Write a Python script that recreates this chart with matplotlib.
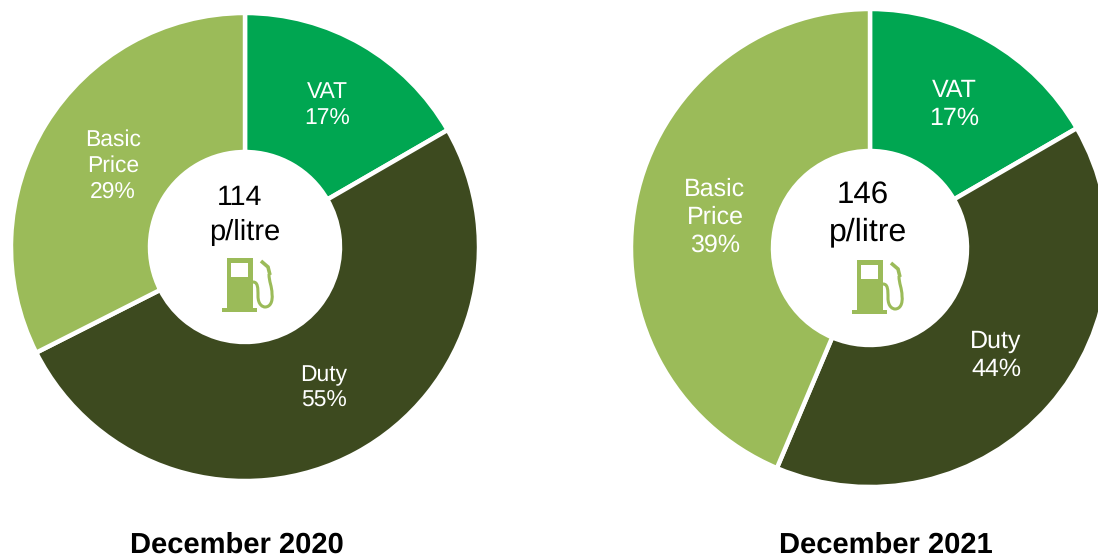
import matplotlib
matplotlib.use("Agg")
import matplotlib.pyplot as plt
from matplotlib.patches import Rectangle, PathPatch
from matplotlib.path import Path

plt.rcParams['font.family'] = ['Liberation Sans', 'DejaVu Sans']
plt.rcParams['text.hinting'] = 'no_hinting'

# pence per litre, as drawn (the slices do not follow the printed percentages)
pence_2020 = [19, 58, 37]
pence_2021 = [24.3, 58, 63.7]
names = ["VAT", "Duty", "Basic\nPrice"]
pct_2020 = ["17%", "55%", "29%"]
pct_2021 = ["17%", "44%", "39%"]
colours = ["#00A651", "#3D4A1F", "#9BBB59"]
W, H = 1098, 557


def py(y):
    # pixels from the top -> axes y
    return H - y


def draw_pump(ax, x0, y0):
    """Fuel pump icon, x0,y0 is the top left of the pump body in pixels"""
    green = colours[2]
    body = Path([(0, 0), (26, 0), (26, 50), (0, 50), (0, 0),
                 (4, 5), (4, 19), (21, 19), (21, 5), (4, 5)],
                [1, 2, 2, 2, 79, 1, 2, 2, 2, 79])
    hose = Path([(26, 24), (31, 24), (31, 30), (31, 38), (31, 47), (36, 49),
                 (38, 49), (43, 49), (46, 44), (45, 36), (45, 28), (42, 24),
                 (42, 16)],
                [1] + [4] * 12)
    nozzle = Path([(43, 17), (41, 9), (34, 3)], [1, 2, 2])
    tr = lambda p: Path([(x0 + x, py(y0 + y)) for x, y in p.vertices], p.codes)
    ax.add_patch(PathPatch(tr(body), fc=green, ec='none', zorder=5))
    ax.add_patch(Rectangle((x0 - 5, py(y0 + 54)), 35, 4, fc=green, ec='none', zorder=5))
    ax.add_patch(PathPatch(tr(hose), fc='none', ec=green, lw=2.2, zorder=5))
    ax.add_patch(PathPatch(tr(nozzle), fc='none', ec=green, lw=2.6, zorder=5))


def draw_donut(ax, vals, cx, cy, r, hole):
    ax.pie(vals, colors=colours, startangle=90, counterclock=False,
           center=(cx, py(cy)), radius=r, frame=False,
           wedgeprops=dict(width=r - hole, edgecolor='white', linewidth=3.2))


fig = plt.figure(figsize=(W / 100, H / 100), dpi=100)
ax = fig.add_axes([0, 0, 1, 1])

draw_donut(ax, pence_2020, 245, 247, 234, 95)
draw_donut(ax, pence_2021, 870, 248, 239, 97)
ax.set_xlim(0, W)
ax.set_ylim(0, H)
ax.set_aspect('equal')
ax.axis('off')

# slice labels
label_pos_2020 = [(327, 105.5), (324, 388), (113, 165.5)]
label_pos_2021 = [(954, 104.5), (996, 355.5), (715, 217.5)]
for pos, pct, fs in [(label_pos_2020, pct_2020, 16.5), (label_pos_2021, pct_2021, 18)]:
    for (x, y), nm, p in zip(pos, names, pct):
        ax.text(x, py(y), nm + "\n" + p, color='white', ha='center', va='center',
                fontsize=fs, linespacing=1.27)

# centre text
ax.text(240, py(198), "114", fontsize=20.5, ha='center', va='center', color='black')
ax.text(245, py(232), "p/litre", fontsize=21, ha='center', va='center', color='black')
ax.text(863, py(195), "146", fontsize=22.5, ha='center', va='center', color='black')
ax.text(868, py(232), "p/litre", fontsize=23, ha='center', va='center', color='black')

draw_pump(ax, 227, 258)
draw_pump(ax, 857, 260)

ax.text(237, py(545.5), "December 2020", fontsize=21, fontweight='bold', ha='center', va='center')
ax.text(885.5, py(545.5), "December 2021", fontsize=21, fontweight='bold', ha='center', va='center')

fig.savefig("out.png", dpi=100)
